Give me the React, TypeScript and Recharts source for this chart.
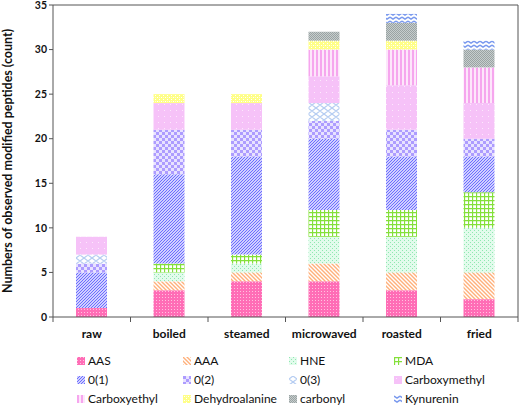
import React from 'react';
import { BarChart, Bar, XAxis, YAxis, Legend, ReferenceLine } from 'recharts';

const categories = ['raw', 'boiled', 'steamed', 'microwaved', 'roasted', 'fried'];

const aas = [1, 3, 4, 4, 3, 2];
const aaa = [0, 1, 1, 2, 2, 3];
const hne = [0, 1, 1, 3, 4, 5];
const mda = [0, 1, 1, 3, 3, 4];
const o1 = [4, 10, 11, 8, 6, 4];
const o2 = [1, 5, 3, 2, 3, 2];
const o3 = [1, 0, 0, 2, 0, 0];
const carboxymethyl = [2, 3, 3, 3, 5, 4];
const carboxyethyl = [0, 0, 0, 3, 4, 4];
const dehydroalanine = [0, 1, 1, 1, 1, 0];
const carbonyl = [0, 0, 0, 1, 2, 2];
const kynurenin = [0, 0, 0, 0, 1, 1];

const yTicks = [0, 5, 10, 15, 20, 25, 30, 35];

const series = [
  { key: 'AAS', values: aas, pat: 'pAAS' },
  { key: 'AAA', values: aaa, pat: 'pAAA' },
  { key: 'HNE', values: hne, pat: 'pHNE' },
  { key: 'MDA', values: mda, pat: 'pMDA' },
  { key: '0(1)', values: o1, pat: 'pO1' },
  { key: '0(2)', values: o2, pat: 'pO2' },
  { key: '0(3)', values: o3, pat: 'pO3' },
  { key: 'Carboxymethyl', values: carboxymethyl, pat: 'pCM' },
  { key: 'Carboxyethyl', values: carboxyethyl, pat: 'pCE' },
  { key: 'Dehydroalanine', values: dehydroalanine, pat: 'pDH' },
  { key: 'carbonyl', values: carbonyl, pat: 'pCB' },
  { key: 'Kynurenin', values: kynurenin, pat: 'pKY' },
];

const data = categories.map((name, i) => {
  const row: any = { name };
  series.forEach(s => { row[s.key] = s.values[i]; });
  return row;
});

const AXIS = '#555';

const XTick = ({ x, y, payload, index, visibleTicksCount }: any) => {
  const off = payload.offset || 0;
  const last = index === visibleTicksCount - 1;
  return (
    <g>
      <line x1={x - off} x2={x - off} y1={y - 8} y2={y - 3} stroke={AXIS} />
      {last && <line x1={x + off} x2={x + off} y1={y - 8} y2={y - 3} stroke={AXIS} />}
      <text x={x} y={y + 13} textAnchor="middle" fontSize={12} fontWeight="bold" fill="#111">
        {payload.value}
      </text>
    </g>
  );
};

const cols = [77, 183, 289, 394];
const rows = [19, 38, 57];

const LegendGrid = ({ payload }: any) => (
  <div style={{ position: 'relative', width: 520, height: 63 }}>
    {(payload || []).map((entry: any, i: number) => {
      const s = series.find(v => v.key === entry.value) || series[i];
      const idx = series.indexOf(s);
      return (
        <div
          key={entry.value}
          style={{
            position: 'absolute',
            left: cols[idx % 4],
            top: rows[Math.floor(idx / 4)] - 8,
            display: 'flex',
            alignItems: 'center',
            fontSize: 12,
            color: '#111',
            whiteSpace: 'nowrap',
          }}
        >
          <svg width={8} height={8} style={{ marginRight: 3 }}>
            <rect width={8} height={8} fill={`url(#${s.pat})`} />
          </svg>
          {s.key}
        </div>
      );
    })}
  </div>
);

export default function App() {
  return (
    <div style={{ position: 'absolute', left: 0, top: 0, width: 520, height: 405, background: '#fff', fontFamily: 'Lato, sans-serif' }}>
      <BarChart width={520} height={405} data={data} margin={{ top: 5, right: 2, left: 0, bottom: 0 }} barSize={31}>
        <defs>
          <pattern id="pAAS" width="3" height="3" patternUnits="userSpaceOnUse">
            <rect width="3" height="3" fill="#ff6db6" />
            <rect width="1" height="1" fill="#ffc2e0" />
          </pattern>
          <pattern id="pAAA" width="4" height="4" patternUnits="userSpaceOnUse">
            <rect width="4" height="4" fill="#fff" />
            <path d="M0,0 L4,4 M-1,3 L1,5 M3,-1 L5,1" stroke="#ffb07a" strokeWidth="1.4" />
          </pattern>
          <pattern id="pHNE" width="4" height="4" patternUnits="userSpaceOnUse">
            <rect width="4" height="4" fill="#e2fbec" />
            <rect x="0" y="0" width="1" height="1" fill="#8fe8b0" />
            <rect x="2" y="2" width="1" height="1" fill="#8fe8b0" />
          </pattern>
          <pattern id="pMDA" width="4" height="4" patternUnits="userSpaceOnUse">
            <rect width="4" height="4" fill="#fff" />
            <path d="M0,0.5 L4,0.5 M0.5,0 L0.5,4" stroke="#84e03a" strokeWidth="1.3" />
          </pattern>
          <pattern id="pO1" width="3" height="3" patternUnits="userSpaceOnUse">
            <rect width="3" height="3" fill="#fff" />
            <path d="M0,3 L3,0 M-1,1 L1,-1 M2,4 L4,2" stroke="#6868ff" strokeWidth="1.2" />
          </pattern>
          <pattern id="pO2" width="6" height="6" patternUnits="userSpaceOnUse">
            <rect width="6" height="6" fill="#e8e2ff" />
            <rect width="3" height="3" fill="#ad9cff" />
            <rect x="3" y="3" width="3" height="3" fill="#ad9cff" />
          </pattern>
          <pattern id="pO3" width="8" height="6" patternUnits="userSpaceOnUse">
            <rect width="8" height="6" fill="#fff" />
            <path d="M0,3 L4,0 L8,3 L4,6 Z" fill="none" stroke="#b6cdf2" strokeWidth="1.2" />
          </pattern>
          <pattern id="pCM" width="6" height="6" patternUnits="userSpaceOnUse">
            <rect width="6" height="6" fill="#f6c2f8" />
            <rect x="2" y="2" width="1" height="1" fill="#fde8fd" />
          </pattern>
          <pattern id="pCE" width="4" height="4" patternUnits="userSpaceOnUse">
            <rect width="4" height="4" fill="#fde6fb" />
            <rect width="2" height="4" fill="#f6a6ee" />
          </pattern>
          <pattern id="pDH" width="4" height="4" patternUnits="userSpaceOnUse">
            <rect width="4" height="4" fill="#ffff88" />
            <rect x="1" y="1" width="1" height="1" fill="#fff" />
            <rect x="3" y="3" width="1" height="1" fill="#fff" />
            <rect x="3" y="1" width="1" height="1" fill="#fffbd0" />
          </pattern>
          <pattern id="pCB" width="2" height="2" patternUnits="userSpaceOnUse">
            <rect width="2" height="2" fill="#c6cdcd" />
            <rect width="1" height="1" fill="#9aa3a3" />
            <rect x="1" y="1" width="1" height="1" fill="#9aa3a3" />
          </pattern>
          <pattern id="pKY" width="6" height="4" patternUnits="userSpaceOnUse">
            <rect width="6" height="4" fill="#fff" />
            <path d="M0,1 L3,3 L6,1" fill="none" stroke="#7898ee" strokeWidth="1.5" />
          </pattern>
        </defs>
        <XAxis
          dataKey="name"
          height={25}
          tickLine={false}
          axisLine={{ stroke: AXIS }}
          tick={<XTick />}
          interval={0}
        />
        <YAxis
          yAxisId="l"
          width={53}
          domain={[0, 35]}
          ticks={yTicks}
          tickSize={4}
          tickLine={{ stroke: AXIS }}
          axisLine={{ stroke: AXIS }}
          tick={{ fontSize: 10.5, fontWeight: 'bold', fill: '#111' }}
          label={{
            value: 'Numbers of observed modified peptides (count)',
            angle: -90,
            position: 'insideLeft',
            offset: 8,
            style: { textAnchor: 'middle', fontSize: 12.5, fontWeight: 'bold', fill: '#111' },
          }}
        />
        <YAxis yAxisId="r" orientation="right" mirror domain={[0, 35]} tick={false} tickLine={false} axisLine={{ stroke: AXIS }} />
        <ReferenceLine yAxisId="l" y={35} stroke={AXIS} />
        <Legend verticalAlign="bottom" height={63} content={<LegendGrid />} wrapperStyle={{ left: 0, width: 520 }} />
        {series.map(s => (
          <Bar key={s.key} yAxisId="l" dataKey={s.key} stackId="a" fill={`url(#${s.pat})`} isAnimationActive={false} />
        ))}
      </BarChart>
    </div>
  );
}
